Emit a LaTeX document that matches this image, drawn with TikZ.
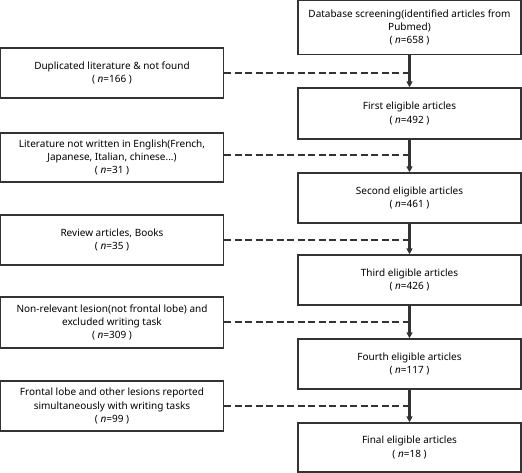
\documentclass[tikz,border=0pt]{standalone}
\usepackage{fontspec}
\setmainfont{Noto Sans}
\usetikzlibrary{arrows.meta}
\definecolor{ln}{HTML}{333333}
\tikzset{
  box/.style={draw=ln, line width=1.4pt, minimum width=223pt, inner sep=0pt, align=center, font=\fontsize{10}{13.3}\selectfont, text=black},
  flow/.style={draw=ln, line width=2.2pt, -{Triangle[length=6pt,width=6pt]}},
  side/.style={draw=ln, line width=2.2pt, dash pattern=on 7pt off 3.5pt}
}
\newcommand{\nn}[1]{( \textit{n}=#1 )}
\begin{document}
\begin{tikzpicture}[x=1pt,y=-1pt]
\useasboundingbox (0,0) rectangle (522,473);
% right column
\node[box, minimum height=54pt] (r1) at (409.5,27.5) {Database screening(identified articles from\\Pubmed)\\\nn{658}};
\node[box, minimum height=51pt] (r2) at (409.5,113.5) {First eligible articles\\\nn{492}};
\node[box, minimum height=50pt] (r3) at (409.5,198) {Second eligible articles\\\nn{461}};
\node[box, minimum height=50pt] (r4) at (409.5,280) {Third eligible articles\\\nn{426}};
\node[box, minimum height=50pt] (r5) at (409.5,364) {Fourth eligible articles\\\nn{117}};
\node[box, minimum height=49pt] (r6) at (409.5,447.5) {Final eligible articles\\\nn{18}};
% left column
\node[box, minimum height=50pt] (l1) at (112,73) {Duplicated literature \& not found\\\nn{166}};
\node[box, minimum height=49pt] (l2) at (112,157.5) {Literature not written in English(French,\\Japanese, Italian, chinese...)\\\nn{31}};
\node[box, minimum height=50pt] (l3) at (112,240) {Review articles, Books\\\nn{35}};
\node[box, minimum height=51pt] (l4) at (112,322.5) {Non-relevant lesion(not frontal lobe) and\\excluded writing task\\\nn{309}};
\node[box, minimum height=50pt] (l5) at (112,406) {Frontal lobe and other lesions reported\\simultaneously with writing tasks\\\nn{99}};
% flow arrows
\foreach \a/\b in {r1/r2,r2/r3,r3/r4,r4/r5,r5/r6}
  \draw[flow] (\a.south) -- (\b.north);
% coordinates on the main line
\coordinate (c1) at (r1.south |- l1.east);
\coordinate (c2) at (r2.south |- 0,155);
\coordinate (c3) at (r3.south |- l3.east);
\coordinate (c4) at (r4.south |- 0,322);
\coordinate (c5) at (r5.south |- 0,406);
\draw[side] (l1.east) -- (c1);
\draw[side] (l2.east |- c2) -- (c2);
\draw[side] (l3.east) -- (c3);
\draw[side] (l4.east |- c4) -- (c4);
\draw[side] (l5.east) -- (c5);
\end{tikzpicture}
\end{document}
